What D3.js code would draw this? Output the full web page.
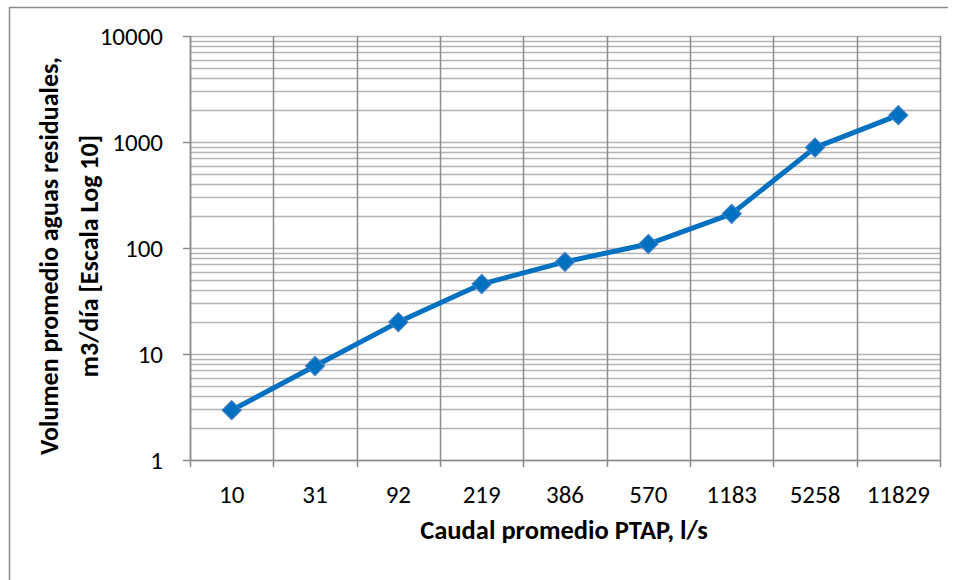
<!DOCTYPE html>
<html><head><meta charset="utf-8">
<script src="https://cdn.jsdelivr.net/npm/d3@7"></script>
<style>body{margin:0;background:#fff}svg{display:block;font-family:Carlito,Calibri,Lato,"Open Sans",sans-serif}</style>
</head><body>
<svg id="c" width="958" height="580"></svg>
<script>
const categories = ["10","31","92","219","386","570","1183","5258","11829"];
const values = [2.95, 7.7, 20, 45.7, 74, 109, 210, 885, 1790];
const yTicks = [1, 10, 100, 1000, 10000];
const xTitle = "Caudal promedio PTAP, l/s";
const yTitle = ["Volumen promedio aguas residuales,", "m3/día [Escala Log 10]"];

const svg = d3.select("#c");
const L = 190, R = 940, T = 36, B = 460;
const x = d3.scaleBand().domain(categories).range([L, R]);
const y = d3.scaleLog().domain([1, 10000]).range([B, T]);

// outer border (top + left)
svg.append("path").attr("d", "M9.5,580 V7.5 H948").attr("fill", "none").attr("stroke", "#8a8a8a").attr("stroke-width", 1.5);

// minor/major horizontal gridlines
const hLines = [];
for (let e = 0; e < 4; e++) for (let m = 1; m <= 9; m++) hLines.push(m * Math.pow(10, e));
hLines.push(10000);
svg.append("g").selectAll("line").data(hLines).join("line")
  .attr("x1", L).attr("x2", R)
  .attr("y1", d => Math.round(y(d)) + 0.5).attr("y2", d => Math.round(y(d)) + 0.5)
  .attr("stroke", "#b4b4b4").attr("stroke-width", 1.3);

// vertical gridlines at category boundaries
const bounds = categories.map(c => x(c)).concat([R]);
svg.append("g").selectAll("line").data(bounds).join("line")
  .attr("x1", d => Math.round(d) + 0.5).attr("x2", d => Math.round(d) + 0.5)
  .attr("y1", T).attr("y2", B + 7)
  .attr("stroke", "#8c8c8c").attr("stroke-width", 1.5);

// axis lines + y ticks
svg.append("line").attr("x1", L + 0.5).attr("x2", L + 0.5).attr("y1", T).attr("y2", B).attr("stroke", "#8c8c8c").attr("stroke-width", 1.5);
svg.append("line").attr("x1", L).attr("x2", R).attr("y1", B + 0.5).attr("y2", B + 0.5).attr("stroke", "#8c8c8c").attr("stroke-width", 1.5);
svg.append("g").selectAll("line").data(yTicks).join("line")
  .attr("x1", L - 7).attr("x2", L)
  .attr("y1", d => Math.round(y(d)) + 0.5).attr("y2", d => Math.round(y(d)) + 0.5)
  .attr("stroke", "#8c8c8c").attr("stroke-width", 1.5);

// y tick labels
svg.append("g").selectAll("text").data(yTicks).join("text")
  .attr("x", L - 27).attr("y", d => y(d) + 9)
  .attr("text-anchor", "end").attr("font-size", 25).attr("fill", "#000")
  .text(d => d);

// x tick labels
svg.append("g").selectAll("text").data(categories).join("text")
  .attr("x", d => x(d) + x.bandwidth() / 2).attr("y", 503)
  .attr("text-anchor", "middle").attr("font-size", 25).attr("fill", "#000")
  .text(d => d);

// axis titles
svg.append("text").attr("x", 564).attr("y", 539).attr("text-anchor", "middle")
  .attr("font-size", 26.5).attr("font-weight", "bold").text(xTitle);
const yt = svg.append("text").attr("transform", "translate(0,256) rotate(-90)")
  .attr("text-anchor", "middle").attr("font-size", 26).attr("font-weight", "bold");
yt.append("tspan").attr("x", 0).attr("y", 58).text(yTitle[0]);
yt.append("tspan").attr("x", 0).attr("y", 98).text(yTitle[1]);

// line
const line = d3.line().x((d, i) => x(categories[i]) + x.bandwidth() / 2).y(d => y(d));
svg.append("path").datum(values).attr("d", line).attr("fill", "none")
  .attr("stroke", "#0070c0").attr("stroke-width", 5).attr("stroke-linejoin", "round");

// markers
svg.append("g").selectAll("path").data(values).join("path")
  .attr("transform", (d, i) => `translate(${x(categories[i]) + x.bandwidth() / 2},${y(d)})`)
  .attr("d", "M0,-9.5 L9.5,0 L0,9.5 L-9.5,0 Z")
  .attr("fill", "#0070c0").attr("stroke", "#3f7fc6").attr("stroke-width", 1.2);
</script>
</body></html>
